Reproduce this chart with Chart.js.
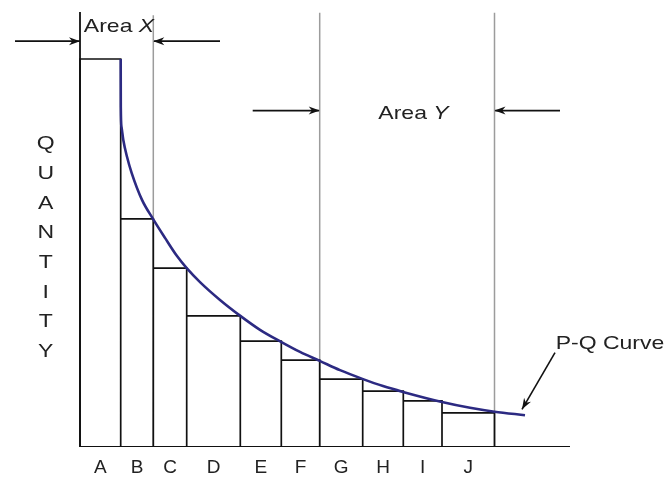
<!DOCTYPE html>
<html><head><meta charset="utf-8">
<script src="https://cdn.jsdelivr.net/npm/chart.js@4/dist/chart.umd.min.js"></script>
<style>html,body{margin:0;padding:0;background:#fff}#wrap{width:667px;height:477px}</style>
</head><body><div id="wrap"><canvas id="c" width="667" height="477"></canvas></div>
<script>
// ---- data (quantity units: x = cumulative item width, y = quantity, A = 100) ----
const categories = ['A','B','C','D','E','F','G','H','I','J'];
const barEdges   = [0, 4.07, 7.33, 10.67, 16.03, 20.13, 23.97, 28.27, 32.33, 36.2, 41.45];
const barHeights = [100, 58.8, 46.1, 33.8, 27.3, 22.4, 17.5, 14.4, 11.9, 8.8];
const curveX = [4.07, 4.08, 4.15, 4.33, 4.7, 5.17, 6.2, 7.3, 8.5, 9.7, 10.67, 12.0, 14.0, 16.03, 18.0, 20.1, 22.0, 23.97, 26.0, 28.3, 30.3, 32.3, 36.2, 39.0, 41.45, 44.5];
const curveY = [100, 87.6, 82.5, 79.1, 74.8, 70.6, 63.7, 58.8, 53.9, 49.2, 46.1, 42.5, 37.9, 33.8, 30.2, 27.1, 24.5, 22.2, 19.8, 17.5, 15.7, 14.2, 11.6, 10.1, 9.1, 8.2];
const areaLines = [7.33, 23.97, 41.45];        // boundaries of Area X / Area Y
const areaLineTops = [111.3, 111.9, 111.9];
const axisLabel = 'QUANTITY';
const axisTop = 112.1;
const baselineEnd = 49;

// ---- annotation layout (data units) ----
const arrows = [
  {from:[-6.5,104.6], to:[0,104.6]},
  {from:[14.0,104.6], to:[7.33,104.6]},
  {from:[17.27,86.7], to:[23.97,86.7]},
  {from:[48.0,86.7], to:[41.45,86.7]},
  {from:[47.5,24.3], to:[44.2,9.7]}
];
const texts = [
  {parts:[['Area ',''],['X','italic ']], x:3.9, y:108.6},
  {parts:[['Area ',''],['Y','italic ']], x:33.35, y:86.2},
  {parts:[['P-Q Curve','']], x:53.0, y:26.9}
];
const letterX = -3.43, letterTopY = 78.5, letterStep = 7.65;

// ---- build datasets ----
const barPath = [];
barHeights.forEach((h,i)=>{
  barPath.push({x:barEdges[i],y:0},{x:barEdges[i],y:h},{x:barEdges[i+1],y:h},{x:barEdges[i+1],y:0});
});
const curve = curveX.map((x,i)=>({x, y:curveY[i]}));
const line = (data, color, width, extra) => Object.assign({type:'line', data, borderColor:color, borderWidth:width,
  pointRadius:0, fill:false, tension:0}, extra||{});

const datasets = [
  line(curve, '#2c2a82', 2.6, {cubicInterpolationMode:'monotone'}),
  line(barPath, '#111', 1.7),
  line([{x:baselineEnd,y:0},{x:0,y:0},{x:0,y:axisTop}], '#111', 1.8),
];
areaLines.forEach((x,i)=>datasets.push(line([{x,y:0},{x,y:areaLineTops[i]}], '#9c9c9c', 1.5)));
arrows.forEach(a=>datasets.push(line([{x:a.from[0],y:a.from[1]},{x:a.to[0],y:a.to[1]}], '#111', 1.6)));

const FONT = "'Liberation Sans', Arial, sans-serif";
const SX = 1.21, FS = 19;

const annot = {
  id:'annot',
  afterDatasetsDraw(chart){
    const {ctx, scales:{x, y}} = chart;
    ctx.save();
    // arrow heads
    ctx.fillStyle = '#111';
    arrows.forEach(a=>{
      const x1=x.getPixelForValue(a.from[0]), y1=y.getPixelForValue(a.from[1]);
      const x2=x.getPixelForValue(a.to[0]),   y2=y.getPixelForValue(a.to[1]);
      const ang = Math.atan2(y2-y1, x2-x1), L=11, W=4;
      ctx.beginPath();
      ctx.moveTo(x2,y2);
      ctx.lineTo(x2 - L*Math.cos(ang) + W*Math.sin(ang), y2 - L*Math.sin(ang) - W*Math.cos(ang));
      ctx.lineTo(x2 - 0.7*L*Math.cos(ang), y2 - 0.7*L*Math.sin(ang));
      ctx.lineTo(x2 - L*Math.cos(ang) - W*Math.sin(ang), y2 - L*Math.sin(ang) + W*Math.cos(ang));
      ctx.closePath(); ctx.fill();
    });
    // texts
    ctx.fillStyle = '#222';
    ctx.textBaseline = 'alphabetic';
    ctx.textAlign = 'left';
    const cap = 0.358*FS;
    texts.forEach(t=>{
      let total = 0;
      t.parts.forEach(p=>{ ctx.font = p[1]+FS+'px '+FONT; total += ctx.measureText(p[0]).width; });
      const cx = x.getPixelForValue(t.x), cy = y.getPixelForValue(t.y);
      ctx.save(); ctx.translate(cx, cy+cap); ctx.scale(SX,1);
      let off = -total/2;
      t.parts.forEach(p=>{ ctx.font = p[1]+FS+'px '+FONT; ctx.fillText(p[0], off, 0); off += ctx.measureText(p[0]).width; });
      ctx.restore();
    });
    ctx.textAlign = 'center';
    ctx.font = FS+'px '+FONT;
    axisLabel.split('').forEach((ch,i)=>{
      const cx = x.getPixelForValue(letterX), cy = y.getPixelForValue(letterTopY - i*letterStep);
      ctx.save(); ctx.translate(cx, cy+cap); ctx.scale(SX,1); ctx.fillText(ch,0,0); ctx.restore();
    });
    ctx.restore();
  }
};

new Chart(document.getElementById('c'), {
  type:'scatter',
  data:{datasets},
  options:{
    responsive:false, animation:false, devicePixelRatio:1,
    layout:{padding:0},
    plugins:{legend:{display:false}, tooltip:{enabled:false}},
    scales:{
      x:{type:'linear', min:-8, max:58.7, position:'bottom',
        grid:{display:false, drawTicks:false}, border:{display:false},
        afterBuildTicks: s => { s.ticks = categories.map((c,i)=>({value:(barEdges[i]+barEdges[i+1])/2})); },
        afterFit: s => { s.height = 30; },
        ticks:{autoSkip:false, maxRotation:0, minRotation:0, padding:9, color:'#222',
          font:{family:FONT, size:19}, callback:(v,i)=>categories[i]}
      },
      y:{type:'linear', min:0, max:115.2, display:false}
    }
  },
  plugins:[annot]
});
</script></body></html>
